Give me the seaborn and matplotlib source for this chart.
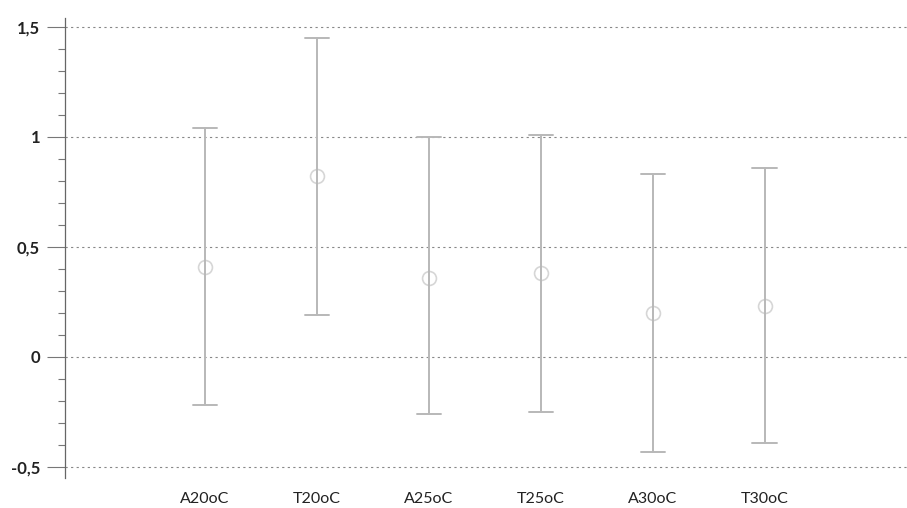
import matplotlib
matplotlib.use("Agg")
import matplotlib.pyplot as plt
import seaborn as sns
import pandas as pd
from matplotlib.ticker import MultipleLocator, FixedLocator

categories = ["A20oC", "T20oC", "A25oC", "T25oC", "A30oC", "T30oC"]
means = [0.41, 0.82, 0.36, 0.38, 0.20, 0.23]
lows = [-0.22, 0.19, -0.26, -0.25, -0.43, -0.39]
highs = [1.04, 1.45, 1.00, 1.01, 0.83, 0.86]
yticks = [-0.5, 0, 0.5, 1, 1.5]
ytick_labels = ["-0,5", "0", "0,5", "1", "1,5"]

rows = []
for c, lo, m, hi in zip(categories, lows, means, highs):
    for v in (lo, m, hi):
        rows.append({"cat": c, "val": v})
df = pd.DataFrame(rows)

sns.set_theme(style="white")
plt.rcParams["font.family"] = ["Lato", "DejaVu Sans"]

fig = plt.figure(figsize=(9.07, 5.08), dpi=100)
ax = fig.add_axes([65 / 907, 30 / 508, 842 / 907, 460 / 508])

sns.pointplot(
    data=df, x="cat", y="val", order=categories,
    estimator="median", errorbar=("pi", 100),
    linestyle="none", capsize=0.22, color="#c4c4c4",
    marker="o", markersize=10, markerfacecolor="white",
    markeredgecolor="#d6d6d6", markeredgewidth=1.2,
    err_kws={"linewidth": 1.4, "color": "#b8b8b8"},
    ax=ax,
)

ax.set_xlim(-1.25, 6.27)
ax.set_ylim(-0.55, 1.54)
ax.yaxis.set_major_locator(FixedLocator(yticks))
ax.set_yticks(yticks)
ax.set_yticklabels(ytick_labels)
ax.yaxis.set_minor_locator(MultipleLocator(0.1))
ax.tick_params(axis="y", which="major", direction="out", length=13, width=0.8,
               color="#777777", labelsize=12, labelcolor="#222222", pad=5, left=True)
ax.tick_params(axis="y", which="minor", direction="out", length=5, width=0.8,
               color="#777777", left=True)
ax.tick_params(axis="x", length=0, labelsize=11.5, labelcolor="#222222", pad=10)
for lab in ax.get_yticklabels():
    lab.set_fontweight("bold")

for y in yticks:
    ax.axhline(y, color="#888888", linestyle=(0, (2, 3)), linewidth=0.8, zorder=0)

for s in ["top", "right", "bottom"]:
    ax.spines[s].set_visible(False)
ax.spines["left"].set_color("#666666")
ax.spines["left"].set_linewidth(0.9)
ax.set_xlabel("")
ax.set_ylabel("")

fig.savefig("out.png", dpi=100)
